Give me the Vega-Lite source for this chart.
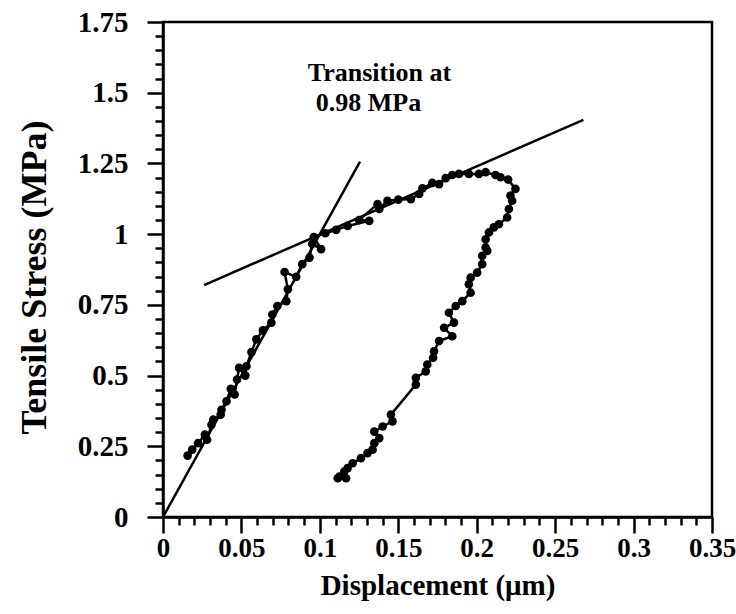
{
  "$schema": "https://vega.github.io/schema/vega-lite/v6.json",
  "width": 549,
  "height": 495,
  "autosize": {"type": "none"},
  "padding": {"left": 163, "top": 22, "right": 24, "bottom": 97},
  "background": "white",
  "config": {
    "font": "Liberation Serif",
    "view": {"stroke": "black", "strokeWidth": 2.5}
  },
  "datasets": {
    "curve": [
      {"i": 1, "x": 0.0157, "y": 0.217},
      {"i": 2, "x": 0.0186, "y": 0.238},
      {"i": 3, "x": 0.0224, "y": 0.261},
      {"i": 4, "x": 0.0267, "y": 0.291},
      {"i": 5, "x": 0.0281, "y": 0.273},
      {"i": 6, "x": 0.0309, "y": 0.326},
      {"i": 7, "x": 0.032, "y": 0.344},
      {"i": 8, "x": 0.0368, "y": 0.362},
      {"i": 9, "x": 0.0373, "y": 0.379},
      {"i": 10, "x": 0.0405, "y": 0.409},
      {"i": 11, "x": 0.0432, "y": 0.453},
      {"i": 12, "x": 0.0457, "y": 0.433},
      {"i": 13, "x": 0.0472, "y": 0.486},
      {"i": 14, "x": 0.0485, "y": 0.527},
      {"i": 15, "x": 0.0525, "y": 0.5},
      {"i": 16, "x": 0.0532, "y": 0.533},
      {"i": 17, "x": 0.0564, "y": 0.583},
      {"i": 18, "x": 0.0595, "y": 0.628},
      {"i": 19, "x": 0.0637, "y": 0.66},
      {"i": 20, "x": 0.0691, "y": 0.687},
      {"i": 21, "x": 0.0697, "y": 0.716},
      {"i": 22, "x": 0.0729, "y": 0.746},
      {"i": 23, "x": 0.0786, "y": 0.763},
      {"i": 24, "x": 0.0796, "y": 0.805},
      {"i": 25, "x": 0.0775, "y": 0.866},
      {"i": 26, "x": 0.0849, "y": 0.849},
      {"i": 27, "x": 0.0888, "y": 0.894},
      {"i": 28, "x": 0.0934, "y": 0.917},
      {"i": 29, "x": 0.0951, "y": 0.965},
      {"i": 30, "x": 0.1008, "y": 0.947},
      {"i": 31, "x": 0.0961, "y": 0.99},
      {"i": 32, "x": 0.1035, "y": 1.003},
      {"i": 33, "x": 0.1104, "y": 1.015},
      {"i": 34, "x": 0.1177, "y": 1.029},
      {"i": 35, "x": 0.1315, "y": 1.047},
      {"i": 36, "x": 0.125, "y": 1.05},
      {"i": 37, "x": 0.1368, "y": 1.106},
      {"i": 38, "x": 0.1379, "y": 1.089},
      {"i": 39, "x": 0.1431, "y": 1.118},
      {"i": 40, "x": 0.15, "y": 1.122},
      {"i": 41, "x": 0.158, "y": 1.124},
      {"i": 42, "x": 0.1633, "y": 1.142},
      {"i": 43, "x": 0.1654, "y": 1.162},
      {"i": 44, "x": 0.1717, "y": 1.181},
      {"i": 45, "x": 0.176, "y": 1.177},
      {"i": 46, "x": 0.1802, "y": 1.198},
      {"i": 47, "x": 0.1844, "y": 1.209},
      {"i": 48, "x": 0.1887, "y": 1.213},
      {"i": 49, "x": 0.195, "y": 1.213},
      {"i": 50, "x": 0.2014, "y": 1.213},
      {"i": 51, "x": 0.2057, "y": 1.219},
      {"i": 52, "x": 0.212, "y": 1.209},
      {"i": 53, "x": 0.2152, "y": 1.201},
      {"i": 54, "x": 0.22, "y": 1.193},
      {"i": 55, "x": 0.2247, "y": 1.16},
      {"i": 56, "x": 0.2215, "y": 1.136},
      {"i": 57, "x": 0.2226, "y": 1.118},
      {"i": 58, "x": 0.2205, "y": 1.089},
      {"i": 59, "x": 0.2194, "y": 1.059},
      {"i": 60, "x": 0.2141, "y": 1.035},
      {"i": 61, "x": 0.2109, "y": 1.024},
      {"i": 62, "x": 0.2078, "y": 1.006},
      {"i": 63, "x": 0.2057, "y": 0.982},
      {"i": 64, "x": 0.2057, "y": 0.953},
      {"i": 65, "x": 0.2067, "y": 0.941},
      {"i": 66, "x": 0.2035, "y": 0.923},
      {"i": 67, "x": 0.2035, "y": 0.894},
      {"i": 68, "x": 0.2003, "y": 0.864},
      {"i": 69, "x": 0.1961, "y": 0.846},
      {"i": 70, "x": 0.195, "y": 0.823},
      {"i": 71, "x": 0.1961, "y": 0.793},
      {"i": 72, "x": 0.1908, "y": 0.763},
      {"i": 73, "x": 0.1866, "y": 0.746},
      {"i": 74, "x": 0.1823, "y": 0.722},
      {"i": 75, "x": 0.1855, "y": 0.687},
      {"i": 76, "x": 0.1792, "y": 0.669},
      {"i": 77, "x": 0.1844, "y": 0.639},
      {"i": 78, "x": 0.176, "y": 0.622},
      {"i": 79, "x": 0.1728, "y": 0.586},
      {"i": 80, "x": 0.1722, "y": 0.563},
      {"i": 81, "x": 0.1685, "y": 0.539},
      {"i": 82, "x": 0.1675, "y": 0.515},
      {"i": 83, "x": 0.1612, "y": 0.492},
      {"i": 84, "x": 0.1612, "y": 0.468},
      {"i": 85, "x": 0.1453, "y": 0.362},
      {"i": 86, "x": 0.1463, "y": 0.338},
      {"i": 87, "x": 0.14, "y": 0.32},
      {"i": 88, "x": 0.1347, "y": 0.302},
      {"i": 89, "x": 0.1379, "y": 0.279},
      {"i": 90, "x": 0.1347, "y": 0.261},
      {"i": 91, "x": 0.1336, "y": 0.238},
      {"i": 92, "x": 0.1304, "y": 0.226},
      {"i": 93, "x": 0.1262, "y": 0.208},
      {"i": 94, "x": 0.1209, "y": 0.19},
      {"i": 95, "x": 0.1177, "y": 0.173},
      {"i": 96, "x": 0.1156, "y": 0.161},
      {"i": 97, "x": 0.1125, "y": 0.143},
      {"i": 98, "x": 0.1114, "y": 0.137},
      {"i": 99, "x": 0.1167, "y": 0.137}
    ],
    "fits": [
      {"seg": "elastic", "x": 0, "y": 0},
      {"seg": "elastic", "x": 0.1256, "y": 1.256},
      {"seg": "plastic", "x": 0.0262, "y": 0.82},
      {"seg": "plastic", "x": 0.268, "y": 1.404}
    ],
    "notes": [
      {"label": "Transition at", "x": 0.138, "y": 1.57},
      {"label": "0.98 MPa", "x": 0.131, "y": 1.463}
    ]
  },
  "encoding": {
    "x": {
      "field": "x",
      "type": "quantitative",
      "scale": {"domain": [0, 0.35], "nice": false, "zero": false},
      "axis": {
        "title": "Displacement (μm)",
        "values": [0, 0.01, 0.02, 0.03, 0.04, 0.05, 0.06, 0.07, 0.08, 0.09, 0.1, 0.11, 0.12, 0.13, 0.14, 0.15, 0.16, 0.17, 0.18, 0.19, 0.2, 0.21, 0.22, 0.23, 0.24, 0.25, 0.26, 0.27, 0.28, 0.29, 0.3, 0.31, 0.32, 0.33, 0.34, 0.35],
        "labelExpr": "abs(datum.value * 20 - round(datum.value * 20)) < 0.001 ? format(datum.value, '~g') : ''",
        "tickSize": {"condition": {"test": "abs(datum.value * 20 - round(datum.value * 20)) < 0.001", "value": 16}, "value": 8},
        "grid": false,
        "labelFlush": false,
        "labelOverlap": false,
        "labelFontSize": 27,
        "labelFontWeight": "bold",
        "labelColor": "black",
        "labelPadding": 2,
        "titleFontSize": 29,
        "titleFontWeight": "bold",
        "titleColor": "black",
        "titlePadding": 10,
        "domainColor": "black",
        "domainWidth": 2.5,
        "tickColor": "black",
        "tickWidth": 2.5
      }
    },
    "y": {
      "field": "y",
      "type": "quantitative",
      "scale": {"domain": [0, 1.75], "nice": false},
      "axis": {
        "title": "Tensile Stress (MPa)",
        "values": [0, 0.05, 0.1, 0.15, 0.2, 0.25, 0.3, 0.35, 0.4, 0.45, 0.5, 0.55, 0.6, 0.65, 0.7, 0.75, 0.8, 0.85, 0.9, 0.95, 1, 1.05, 1.1, 1.15, 1.2, 1.25, 1.3, 1.35, 1.4, 1.45, 1.5, 1.55, 1.6, 1.65, 1.7, 1.75],
        "labelExpr": "abs(datum.value * 4 - round(datum.value * 4)) < 0.001 ? format(datum.value, '~g') : ''",
        "tickSize": {"condition": {"test": "abs(datum.value * 4 - round(datum.value * 4)) < 0.001", "value": 16}, "value": 8},
        "grid": false,
        "labelFlush": false,
        "labelOverlap": false,
        "labelFontSize": 29,
        "labelFontWeight": "bold",
        "labelColor": "black",
        "labelPadding": 19,
        "titleFontSize": 36,
        "titleFontWeight": "bold",
        "titleColor": "black",
        "titlePadding": 24,
        "titleY": 255,
        "domainColor": "black",
        "domainWidth": 2.5,
        "tickColor": "black",
        "tickWidth": 2.5
      }
    }
  },
  "layer": [
    {
      "data": {"name": "fits"},
      "mark": {"type": "line", "color": "black", "strokeWidth": 2.5, "clip": true},
      "encoding": {"detail": {"field": "seg"}}
    },
    {
      "data": {"name": "curve"},
      "mark": {"type": "line", "color": "black", "strokeWidth": 2.5},
      "encoding": {"order": {"field": "i", "type": "quantitative"}}
    },
    {
      "data": {"name": "curve"},
      "mark": {"type": "circle", "color": "black", "opacity": 1, "size": 75},
      "encoding": {}
    },
    {
      "data": {"name": "notes"},
      "mark": {"type": "text", "fontSize": 26, "fontWeight": "bold", "color": "black", "align": "center", "baseline": "middle"},
      "encoding": {"text": {"field": "label"}}
    }
  ]
}
